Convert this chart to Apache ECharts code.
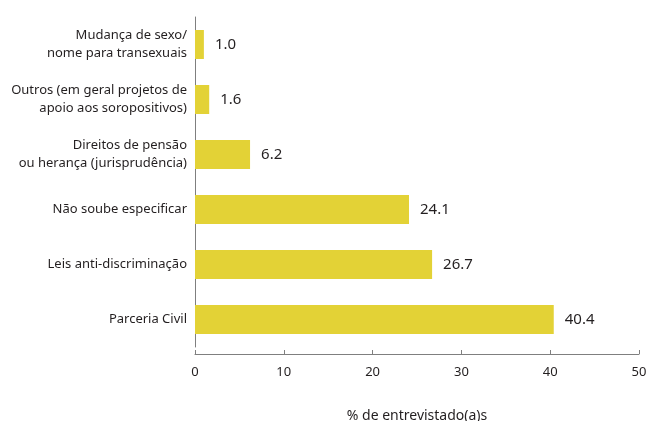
<html>
<head>
    <meta http-equiv="Content-Type" content="text/html; charset=utf-8" />
</head>
<script type="text/javascript" src="https://cdn.jsdelivr.net/npm/echarts@6/dist/echarts.min.js"></script>

<body style="margin:0">
<div id="main" style="width: 647px;height:421px;"></div>
</body>

<script type="text/javascript">
    // categories bottom -> top (as in the picture, Parceria Civil at the bottom)
    var categorias = [
        'Parceria Civil',
        'Leis anti-discriminação',
        'Não soube especificar',
        'Direitos de pensão\nou herança (jurisprudência)',
        'Outros (em geral projetos de\napoio aos soropositivos)',
        'Mudança de sexo/\nnome para transexuais'
    ];
    var valores = [40.4, 26.7, 24.1, 6.2, 1.6, 1.0];
    var eixoX = { min: 0, max: 50, interval: 10 };

    var corTexto = '#231f20';
    var fonte = '"Noto Sans", "Open Sans", sans-serif';

    var myChart = echarts.init(document.getElementById('main'));

    var option = {
        animation: false,
        grid: { left: 195, right: 8, top: 17, height: 330, outerBoundsMode: 'none', containLabel: false },
        xAxis: {
            type: 'value',
            min: eixoX.min,
            max: eixoX.max,
            interval: eixoX.interval,
            offset: 7,
            name: '% de entrevistado(a)s',
            nameLocation: 'middle',
            nameGap: 55,
            nameTextStyle: { color: corTexto, fontSize: 14, fontFamily: fonte },
            axisLine: { show: true, lineStyle: { color: '#7f7f7f', width: 1 } },
            axisTick: { show: true, inside: true, length: 4, lineStyle: { color: '#7f7f7f' } },
            axisLabel: { color: corTexto, fontSize: 13, fontFamily: fonte, margin: 12 },
            splitLine: { show: false }
        },
        yAxis: {
            type: 'category',
            data: categorias,
            axisLine: { show: true, lineStyle: { color: '#7f7f7f', width: 1 } },
            axisTick: { show: false },
            axisLabel: {
                color: corTexto, fontSize: 13, fontFamily: fonte,
                margin: 8, lineHeight: 18, align: 'right'
            }
        },
        series: [{
            type: 'bar',
            data: valores,
            barWidth: 29,
            itemStyle: { color: '#e3d236' },
            label: {
                show: true,
                position: 'right',
                distance: 11,
                color: corTexto,
                fontSize: 15,
                fontFamily: fonte,
                formatter: function (p) { return p.value.toFixed(1); }
            }
        }]
    };

    myChart.setOption(option);
</script>
</html>
